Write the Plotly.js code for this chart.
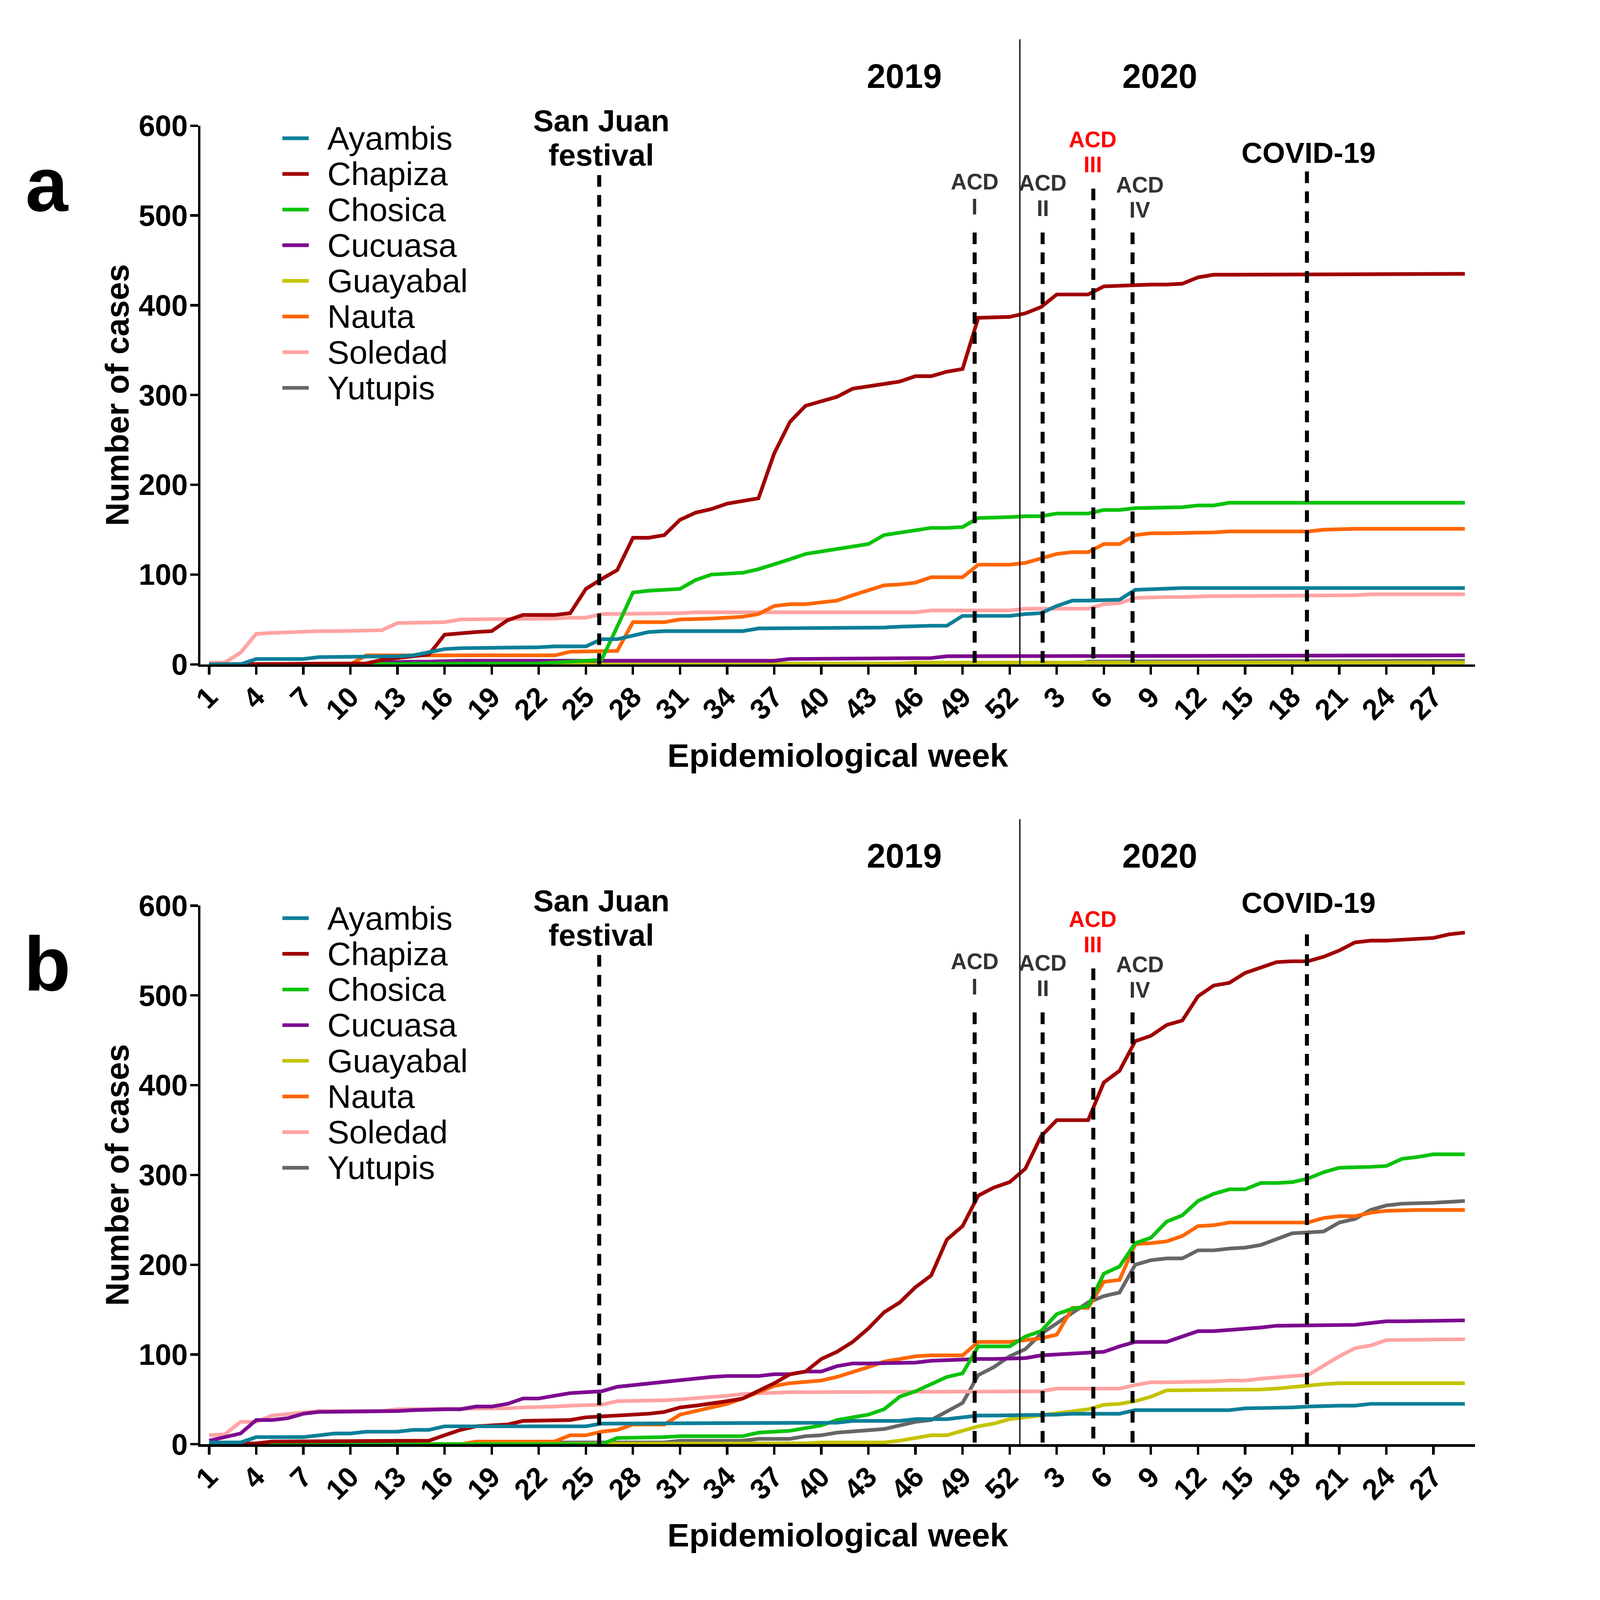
<!DOCTYPE html>
<html>
<head>
<meta charset="utf-8">
<script src="https://cdn.plot.ly/plotly-3.0.1.min.js"></script>
<style>html,body{margin:0;padding:0;background:#fff;overflow:hidden;}</style>
</head>
<body>
<div id="chart"></div>
<script>
// epidemiological weeks shown on the x axis
var weeks2019 = [1,2,3,4,5,6,7,8,9,10,11,12,13,14,15,16,17,18,19,20,21,22,23,24,25,26,
                 27,28,29,30,31,32,33,34,35,36,37,38,39,40,41,42,43,44,45,46,47,48,49,50,51,52];
var weeks2020 = [1,2,3,4,5,6,7,8,9,10,11,12,13,14,15,16,17,18,19,20,21,22,23,24,25,26,27,28,29];

var sites = ['Ayambis','Chapiza','Chosica','Cucuasa','Guayabal','Nauta','Soledad','Yutupis'];
var siteColors = ['#0C7F98','#A00000','#0BC20B','#7D0A90','#C4C400','#FF6600','#FFA3A3','#666666'];

// panel a - cumulative cases
var ayambisA  = [0,0,0,6,6,6,6,8,8,8, 8,8,9,10,13,17,18,18,18,18, 19,19,20,20,20,28,28,32,36,37,
                 37,37,37,37,37,40,40,40,40,40, 41,41,41,41,42,43,43,43,54,54, 54,54,56,57,65,71,71,72,72,83,
                 84,84,85,85,85,85,85,85,85,85, 85,85,85,85,85,85,85,85,85,85,85];
var chapizaA  = [0,0,0,0,0,0,0,1,1,1, 1,5,7,10,11,33,35,36,37,49, 55,55,55,57,84,95,105,141,141,144,
                 161,169,173,179,182,185,235,270,288,293, 298,307,310,312,315,321,321,326,329,386,
                 387,387,391,398,412,412,412,421,422,423, 423,423,424,431,434,434,434,435,435,435,
                 435,435,435,435,435,435,435,435,435,435,435];
var chosicaA  = [0,0,0,0,0,0,0,0,0,0, 0,0,0,0,0,0,0,0,0,1, 1,1,2,3,3,5,42,80,82,83,
                 84,94,100,101,102,106,111,117,123,126, 128,131,134,144,147,150,152,152,153,163,
                 163,164,165,165,168,168,168,172,172,174, 174,175,175,177,177,180,180,180,180,180,
                 180,180,180,180,180,180,180,180,180,180,180];
var cucuasaA  = [0,0,0,0,0,0,0,1,1,1, 1,2,3,3,3,4,4,4,4,4, 4,4,4,4,4,4,4,4,4,4,
                 4,4,4,4,4,4,4,6,6,7, 7,7,7,7,7,7,7,9,9,10, 10,10,10,10,10,10,10,10,10,10,
                 10,10,10,10,10,10,10,10,10,10, 10,10,10,10,10,10,10,10,10,10,10];
var guayabalA = [0,0,0,0,0,0,0,0,0,0, 0,0,0,0,0,0,0,0,0,0, 0,0,0,0,0,1,1,1,1,1,
                 1,1,1,1,1,1,1,1,1,1, 1,1,1,1,1,2,2,2,2,2, 2,2,2,2,2,2,2,2,2,2,
                 2,2,2,2,2,2,2,2,2,2, 2,2,2,2,2,2,2,2,2,2,2];
var nautaA    = [0,0,0,0,0,0,0,0,0,0, 10,10,10,10,10,10,10,10,10,10, 10,10,10,14,14,15,15,47,47,47,
                 50,50,51,52,53,56,65,67,67,69, 71,77,82,88,89,91,97,97,97,111,
                 111,111,113,118,123,125,125,134,134,144, 146,146,146,147,147,148,148,148,148,148,
                 148,150,151,151,151,151,151,151,151,151,151];
var soledadA  = [2,2,13,34,35,36,37,37,37,37, 37,38,46,46,46,47,50,50,50,50, 50,50,51,52,52,56,56,56,56,56,
                 57,58,58,58,58,58,58,58,58,58, 58,58,58,58,58,58,60,60,60,60, 60,60,62,62,62,62,62,67,68,74,
                 75,75,75,76,76,76,76,76,76,76, 76,76,76,77,78,78,78,78,78,78,78];
var yutupisA  = [0,0,0,0,0,0,0,0,0,0, 0,0,0,0,0,0,0,0,0,0, 0,0,0,0,0,0,0,0,0,0,
                 0,0,0,0,0,0,0,0,0,0, 0,0,0,0,0,0,0,0,0,0, 0,0,0,0,0,0,3,3,3,3,
                 3,3,3,3,3,3,3,3,3,3, 3,4,4,4,4,4,4,4,4,4,4];

// panel b - cumulative cases
var ayambisB  = [2,2,2,8,8,8,8,10,12,12, 14,14,14,16,16,20,20,20,20,20, 20,20,20,20,20,23,23,23,23,23,
                 23,24,24,24,24,24,24,24,24,24, 24,26,26,26,26,28,28,28,30,32, 32,32,32,32,33,34,34,34,34,38,
                 38,38,38,38,38,38,40,40,40,41, 42,43,43,43,45,45,45,45,45,45,45];
var chapizaB  = [0,0,0,1,3,3,3,3,3,3, 3,3,3,4,4,10,16,20,21,22, 26,26,27,27,30,31,31,33,34,36,
                 41,43,45,48,51,59,68,78,81,95, 103,114,129,147,158,175,188,228,243,277,
                 286,292,307,343,361,361,361,403,416,449, 455,467,472,499,511,514,525,531,537,538,
                 538,543,550,559,561,561,562,562,564,568,570];
var chosicaB  = [0,0,0,0,0,0,0,0,0,0, 0,0,0,0,0,0,0,0,0,0, 0,0,0,0,0,0,7,7,7,8,
                 9,9,9,9,9,13,14,15,18,21, 27,30,33,39,53,59,67,75,79,109,
                 109,109,120,126,145,151,154,190,198,224, 230,248,255,271,279,284,284,291,291,292,
                 296,303,308,308,309,310,318,320,323,323,323];
var cucuasaB  = [4,8,12,27,27,29,34,36,36,37, 37,37,37,38,39,39,39,42,42,45, 51,51,54,57,58,59,64,66,68,69,
                 71,74,75,76,76,76,78,78,81,81, 87,90,90,90,91,91,93,94,94,95,
                 95,96,96,99,100,101,102,103,109,114, 114,114,120,126,126,127,128,130,132,132,
                 132,132,132,133,135,137,137,137,137,138,138];
var guayabalB = [0,0,0,0,0,0,0,0,0,0, 0,0,0,0,0,0,0,0,0,0, 0,0,0,0,0,0,1,1,1,1,
                 1,1,1,1,1,1,1,1,1,2, 2,2,2,2,4,7,10,10,15,20, 23,28,30,32,34,37,39,44,45,48,
                 53,60,60,60,60,61,61,61,62,64, 66,67,68,68,68,68,68,68,68,68,68];
var nautaB    = [0,0,0,0,0,0,0,0,0,0, 0,0,0,0,0,0,0,3,3,3, 3,3,3,10,10,14,16,22,22,22,
                 33,37,41,45,51,58,65,68,70,71, 75,80,86,92,95,98,99,99,99,114,
                 114,114,116,118,122,152,152,181,183,223, 224,226,232,243,244,247,247,247,247,247,
                 247,252,254,254,258,260,261,261,261,261,261];
var soledadB  = [10,11,25,25,32,34,36,37,37,37, 37,37,39,39,39,39,40,40,40,40, 41,41,42,43,43,44,48,48,48,49,
                 50,51,52,54,56,57,58,58,58,58, 58,58,58,58,58,58,59,59,59,59, 59,59,59,59,62,62,62,62,62,66,
                 69,69,69,69,70,71,71,73,75,76, 77,88,98,107,110,116,116,116,116,117,117];
var yutupisB  = [0,0,0,0,0,0,0,0,0,0, 0,0,0,0,0,0,0,0,0,2, 2,2,2,2,2,2,2,2,2,2,
                 4,4,4,4,4,6,6,6,9,10, 13,14,15,17,21,25,27,36,46,77,
                 86,98,106,123,135,146,158,165,169,200, 205,207,207,216,216,218,219,222,228,235,
                 236,237,247,251,261,266,268,268,269,270,271];

var seriesA = [ayambisA, chapizaA, chosicaA, cucuasaA, guayabalA, nautaA, soledadA, yutupisA];
var seriesB = [ayambisB, chapizaB, chosicaB, cucuasaB, guayabalB, nautaB, soledadB, yutupisB];

// events marked with dashed lines (position on the week axis)
var eventWeeks = {sanJuan: 25.85, acd1: 49.77, acd2: 54.1, acd3: 57.33, acd4: 59.83, covid: 70.94};
var yearSplit = 52.65;

// design size; everything is scaled to fit the window
var W = 4937, H = 5219;
var S = Math.min(window.innerWidth / W, window.innerHeight / H) || 1;
if (S > 1) S = 1;
var z = function(v){ return v * S; };
var FONT = 'Liberation Sans, Arial, Helvetica, sans-serif';
var px = function(x){ return x / W; };
var py = function(y){ return 1 - y / H; };
var panelOffset = [0, 2544];

var allWeeks = weeks2019.concat(weeks2020);
var xPos = allWeeks.map(function(w, i){ return i + 1; });
var tickVals = [], tickText = [];
allWeeks.forEach(function(w, i){
    if (i % 3 === 0 && i < 80) { tickVals.push(i + 1); tickText.push(String(w)); }
});

var traces = [];
[seriesA, seriesB].forEach(function(series, p){
    // drawn last-to-first so that Ayambis ends up on top
    for (var k = sites.length - 1; k >= 0; k--) {
        traces.push({
            x: xPos, y: series[k], name: sites[k], type: 'scatter', mode: 'lines',
            xaxis: p === 0 ? 'x' : 'x2', yaxis: p === 0 ? 'y' : 'y2',
            line: {color: siteColors[k], width: z(12)}, showlegend: false, hoverinfo: 'skip'
        });
    }
});

function xAxis(anchor){
    return {
        domain: [px(654), px(4811)], range: [0.45, 81.65], anchor: anchor,
        showline: true, linecolor: '#000', linewidth: z(8),
        ticks: 'outside', ticklen: z(26), tickwidth: z(8), tickcolor: '#000',
        tickmode: 'array', tickvals: tickVals, ticktext: tickText, tickangle: -45,
        ticklabelstandoff: Math.round(z(-20)),
        tickfont: {family: FONT, size: z(94), weight: 'bold', color: '#000'},
        showgrid: false, zeroline: false,
        title: {text: 'Epidemiological week', standoff: z(62),
                font: {family: FONT, size: z(107), weight: 'bold', color: '#000'}}
    };
}
function yAxis(top, bottom, anchor){
    return {
        domain: [py(bottom), py(top)], range: [0, 600], anchor: anchor,
        showline: true, linecolor: '#000', linewidth: z(8),
        ticks: 'outside', ticklen: z(26), tickwidth: z(8), tickcolor: '#000',
        tickvals: [0,100,200,300,400,500,600],
        ticklabelstandoff: Math.round(z(-12)),
        tickfont: {family: FONT, size: z(96), weight: 'bold', color: '#000'},
        showgrid: false, zeroline: false,
        title: {text: 'Number of cases', standoff: 0,
                font: {family: FONT, size: z(106), weight: 'bold', color: '#000'}}
    };
}

var shapes = [], annotations = [];
function label(x, y, text, size, color, weight){
    annotations.push({xref: 'paper', yref: 'paper', x: px(x), y: py(y), text: text,
        showarrow: false, xanchor: 'center', yanchor: 'middle',
        font: {family: FONT, size: z(size), color: color || '#000', weight: weight || 'bold'}});
}

panelOffset.forEach(function(off, p){
    var xr = p === 0 ? 'x' : 'x2', yr = p === 0 ? 'y' : 'y2';
    label(154, 601 + off, p === 0 ? 'a' : 'b', 250);
    label(2950, 248 + off, '2019', 110);
    label(3783, 248 + off, '2020', 110);
    label(1961, 394 + off, 'San Juan', 100);
    label(1961, 506 + off, 'festival', 100);
    label(3179, 593 + off, 'ACD', 72, '#333333'); label(3179, 675 + off, 'I', 72, '#333333');
    label(3401, 597 + off, 'ACD', 72, '#333333'); label(3401, 680 + off, 'II', 72, '#333333');
    label(3564, 455 + off, 'ACD', 72, '#FF0000'); label(3564, 537 + off, 'III', 72, '#FF0000');
    label(3718, 603 + off, 'ACD', 72, '#333333'); label(3718, 685 + off, 'IV', 72, '#333333');
    label(4268, (p === 0 ? 499 : 401) + off, 'COVID-19', 95);

    // year separator
    shapes.push({type: 'line', xref: xr, yref: 'paper', x0: yearSplit, x1: yearSplit,
        y0: py(128 + off), y1: py(2167 + off), line: {color: '#000', width: z(4)}});

    // dashed event lines
    var dashTops = [
        [eventWeeks.sanJuan, 545], [eventWeeks.acd1, 481], [eventWeeks.acd2, 481],
        [eventWeeks.acd3, 530], [eventWeeks.acd4, 481], [eventWeeks.covid, p === 0 ? 549 : 568]
    ];
    dashTops.forEach(function(d){
        shapes.push({type: 'line', xref: xr, yref: yr, x0: d[0], x1: d[0], y0: d[1], y1: 0,
            line: {color: '#000', width: z(13), dash: z(38) + 'px,' + z(27) + 'px'}, layer: 'above'});
    });

    // legend
    sites.forEach(function(s, k){
        var yy = 451 + k * 116.3 + off;
        shapes.push({type: 'line', xref: 'paper', yref: 'paper', x0: px(921), x1: px(1007),
            y0: py(yy), y1: py(yy), line: {color: siteColors[k], width: z(12)}});
        annotations.push({xref: 'paper', yref: 'paper', x: px(1065), y: py(yy), text: s,
            showarrow: false, xanchor: 'left', yanchor: 'middle',
            font: {family: FONT, size: z(107), color: '#000'}});
    });
});

var el = document.getElementById('chart');
el.style.width = z(W) + 'px';
el.style.height = z(H) + 'px';

var layout = {
    width: z(W), height: z(H), margin: {l: 0, r: 0, t: 0, b: 0},
    paper_bgcolor: '#fff', plot_bgcolor: '#fff', showlegend: false,
    font: {family: FONT, color: '#000'},
    xaxis: xAxis('y'), yaxis: yAxis(410, 2167, 'x'),
    xaxis2: xAxis('y2'), yaxis2: yAxis(2954, 4711, 'x2'),
    shapes: shapes, annotations: annotations
};

Plotly.newPlot('chart', traces, layout, {staticPlot: true, displayModeBar: false});
</script>
</body>
</html>
